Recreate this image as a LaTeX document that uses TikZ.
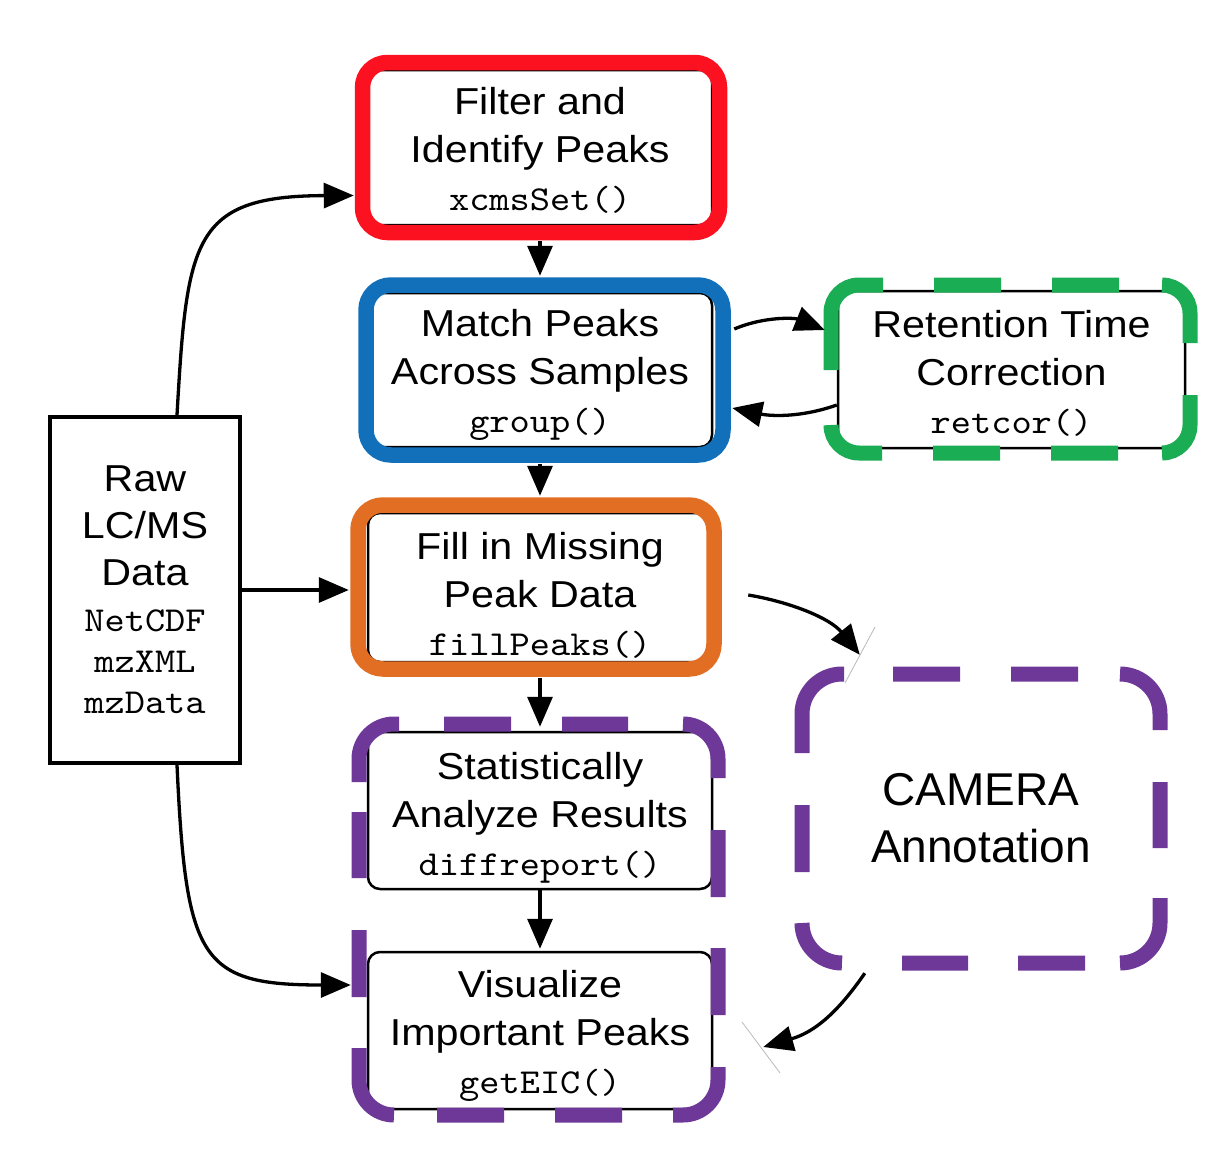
\documentclass[tikz,border=0pt]{standalone}
\usepackage{fontspec}
\setmainfont{Liberation Sans}[FakeStretch=1.1]
\newfontfamily\camfont{Liberation Sans}
\setmonofont{lmmono10-regular.otf}[FakeStretch=1.1]
\usetikzlibrary{arrows.meta,calc}
\definecolor{cred}{RGB}{252,17,33}
\definecolor{cblue}{RGB}{18,112,186}
\definecolor{cgreen}{RGB}{27,173,84}
\definecolor{corange}{RGB}{226,110,35}
\definecolor{cpurple}{RGB}{110,56,153}
\newcommand\boxfont{\fontsize{37.5}{48}\selectfont}
\newcommand\code[1]{{\ttfamily\fontsize{35}{48}\selectfont #1}}
\newcommand\fs[1]{\rule{0pt}{#1pt}}
\tikzset{
  procbox/.style={draw, line width=2.5pt, rounded corners=12pt, fill=white,
    align=center, font=\boxfont, inner sep=0pt},
  rawbox/.style={draw, line width=4pt, fill=white, align=center,
    font={\fontsize{37.5}{47}\selectfont}, inner sep=0pt},
  solidframe/.style={line width=15.5pt, rounded corners=25pt},
  dashframe/.style={line width=15pt, line cap=butt, rounded corners=#1},
  arr/.style={line width=3.3pt, -{Triangle[length=30pt,width=25pt]}},
  trace/.style={gray!55, line width=0.8pt}
}
\begin{document}
\begin{tikzpicture}[x=1pt,y=-1pt]
\useasboundingbox (0,0) rectangle (1210,1154);

% process boxes
\node[procbox, minimum width=344pt, minimum height=155pt] (filter) at (540,147.5)
  {\fs{33.75}Filter and\\Identify Peaks\\\code{xcmsSet()}};
\node[procbox, minimum width=344pt, minimum height=154pt] (match) at (540,370)
  {\fs{36.75}Match Peaks\\Across Samples\\\code{group()}};
\node[procbox, minimum width=347pt, minimum height=157pt] (ret) at (1011.5,369.5)
  {\fs{35.75}Retention Time\\Correction\\\code{retcor()}};
\node[procbox, minimum width=344pt, minimum height=149pt] (fill) at (540,587.5)
  {\fs{43.75}Fill in Missing\\Peak Data\\\code{fillPeaks()}};
\node[procbox, minimum width=344pt, minimum height=157pt] (stat) at (540,810.5)
  {\fs{41.75}Statistically\\Analyze Results\\\code{diffreport()}};
\node[procbox, minimum width=344pt, minimum height=157pt] (vis) at (540,1030.5)
  {\fs{37.75}Visualize\\Important Peaks\\\code{getEIC()}};
\node[rawbox, minimum width=190pt, minimum height=346pt] (raw) at (145,590)
  {Raw\\LC/MS\\Data\\[-1pt]\code{NetCDF}\\[-6pt]\code{mzXML}\\[-6pt]\code{mzData}};
\node[align=center, inner sep=0pt, minimum width=358pt, minimum height=289pt,
  font={\camfont\fontsize{46}{57}\selectfont}] (cam) at (981,818.5)
  {CAMERA\\Annotation};

% coloured frames
\draw[solidframe, cred] (362.5,62.5) rectangle (719.5,232.5);
\draw[solidframe, cblue] (366,285) rectangle (723,455);
\draw[solidframe, corange] (358,505) rectangle (714,669);

\draw[dashframe=28pt, cgreen]
  (831,370) -- (831,285) -- (883,285)
  (934,285) -- (1001,285)
  (1052,285) -- (1119,285)
  (1162,285) -- (1190,285) -- (1190,343)
  (1190,395) -- (1190,453) -- (1162,453)
  (1118,453) -- (1051,453)
  (1000,453) -- (933,453)
  (882,453) -- (831,453) -- (831,425);

\draw[dashframe=35pt, cpurple]
  (359,782) -- (359,724) -- (399,724)
  (444,724) -- (511,724)
  (562,724) -- (628,724)
  (683,724) -- (718,724) -- (718,778)
  (718,830) -- (718,897)
  (718,948) -- (718,1015)
  (718,1067) -- (718,1115) -- (673,1115)
  (622,1115) -- (555,1115)
  (504,1115) -- (437,1115)
  (394,1115) -- (359,1115) -- (359,1048)
  (359,997) -- (359,930)
  (359,878) -- (359,812);

\draw[dashframe=40pt, cpurple]
  (802,753) -- (802,674) -- (844,674)
  (893,674) -- (960,674)
  (1011,674) -- (1078,674)
  (1120,674) -- (1160,674) -- (1160,730)
  (1160,782) -- (1160,848)
  (1160,898) -- (1160,963) -- (1120,963)
  (1085,963) -- (1018,963)
  (968,963) -- (902,963)
  (842,963) -- (802,963) -- (802,923)
  (802,872) -- (802,805);

% faint trace marks
\draw[trace] (875,627) -- (845,683);
\draw[trace] (742,1022) -- (780,1073);

% connectors
\draw[arr, shorten <=15pt, shorten >=16pt] (filter) -- (match);
\draw[arr, shorten <=16pt, shorten >=16pt] (match) -- (fill);
\draw[arr, shorten <=15pt, shorten >=4pt] (fill) -- (stat);
\draw[arr, shorten >=2pt] (stat) -- (vis);
\draw[arr, shorten >=18pt] (raw.east) -- (raw.east -| fill.west);

\draw[arr] ([shift={(32,0)}]raw.north) .. controls (187,240) and (192,196) ..
  ([shift={(-13,48)}]filter.west);
\draw[arr] ([shift={(32,0)}]raw.south) .. controls (186,960) and (200,985) ..
  ([shift={(-16,-45.5)}]vis.west);
\draw[arr] ([shift={(21,-41)}]match.east) .. controls (765,316) and (795,318) ..
  ([shift={(-12,-39.5)}]ret.west);
\draw[arr] ([shift={(0,35.5)}]ret.west) .. controls (800,418) and (770,416) ..
  ([shift={(19,38)}]match.east);
\coordinate (camin) at ([shift={(58,-19)}]cam.north west);
\coordinate (camout) at ([shift={(63,10)}]cam.south west);
\draw[arr] ([shift={(35,7.5)}]fill.east) .. controls (790,602) and (830,618) .. (camin);
\draw[arr] (camout) .. controls (838,1012) and (815,1032) ..
  ([shift={(50,16.5)}]vis.east);
\end{tikzpicture}
\end{document}
